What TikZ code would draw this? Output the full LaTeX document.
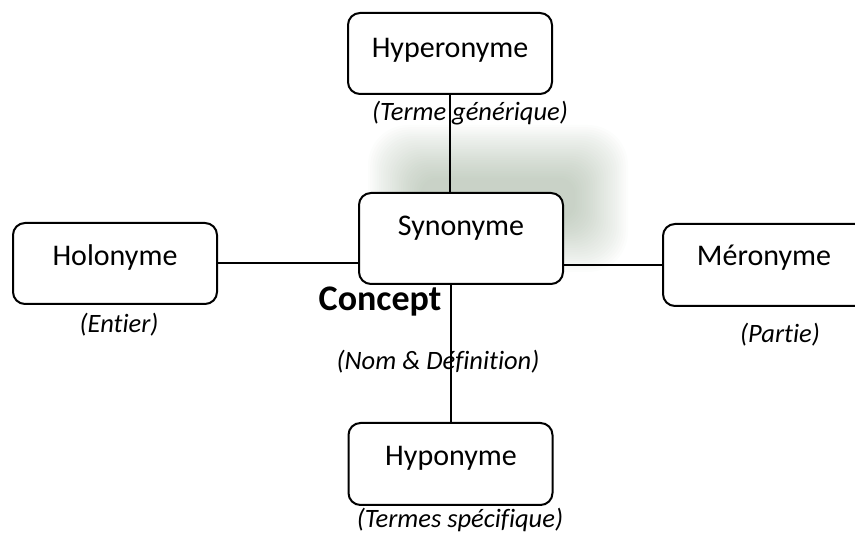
\documentclass[tikz,border=0pt]{standalone}
\usepackage{fontspec}
\setmainfont{Carlito}[Ligatures=CommonOff]
\usetikzlibrary{positioning}
\definecolor{glowgreen}{RGB}{115,140,110}

\begin{document}
\begin{tikzpicture}[
    x=1pt, y=-1pt,
    every node/.style={font=\fontsize{30}{35}\selectfont, inner sep=0pt},
    term/.style={draw, line width=2pt, rounded corners=12pt, fill=white,
                 minimum width=204pt, minimum height=81pt},
    note/.style={font=\fontsize{26.5}{31}\selectfont\itshape},
    concept/.style={font=\fontsize{36}{42}\selectfont\bfseries},
    link/.style={line width=2pt},
]
\useasboundingbox (0,0) rectangle (855,537);
\clip (0,0) rectangle (855,537);

% halo derriere le synonyme
\foreach \k in {0,...,24}
    \fill[glowgreen, opacity=0.02, rounded corners={40pt-\k pt}]
        (368+\k*2.2, 125+\k*2.2) rectangle (628-\k*2.2, 272-\k*2.2);

% boites des relations
\node[term] (hyper) at (450,53.5) {};
\node[term, minimum height=91pt] (syn) at (461,238.5) {};
\node[term] (holo) at (115,263.5) {};
\node[term, minimum height=82pt] (mero) at (765,265) {};
\node[term, minimum height=82pt] (hypo) at (450.5,464) {};

% noms dans les boites
\node (hypertxt) at (450,50) {Hyperonyme};
\node (syntxt) at (461,228) {Synonyme};
\node (holotxt) at (115,258) {Holonyme};
\node (merotxt) at (764,258) {Méronyme};
\node (hypotxt) at (451,458) {Hyponyme};

% concept et commentaires
\node[concept] (concept) at (380,302) {Concept};
\node[note] (hypernote) at (470,113) {(Terme générique)};
\node[note] (holonote) at (119,325) {(Entier)};
\node[note] (meronote) at (780,335) {(Partie)};
\node[note] (conceptnote) at (438,362) {(Nom \& Définition)};
\node[note] (hyponote) at (460,520) {(Termes spécifique)};

% liens
\draw[link] (hyper.south) -- (hyper.south |- syn.north);
\draw[link] (syn.south -| hypo.north) -- (hypo.north);
\draw[link] (holo.east) -- (holo.east -| syn.west);
\draw[link] (syn.east |- mero.west) -- (mero.west);

\end{tikzpicture}
\end{document}
